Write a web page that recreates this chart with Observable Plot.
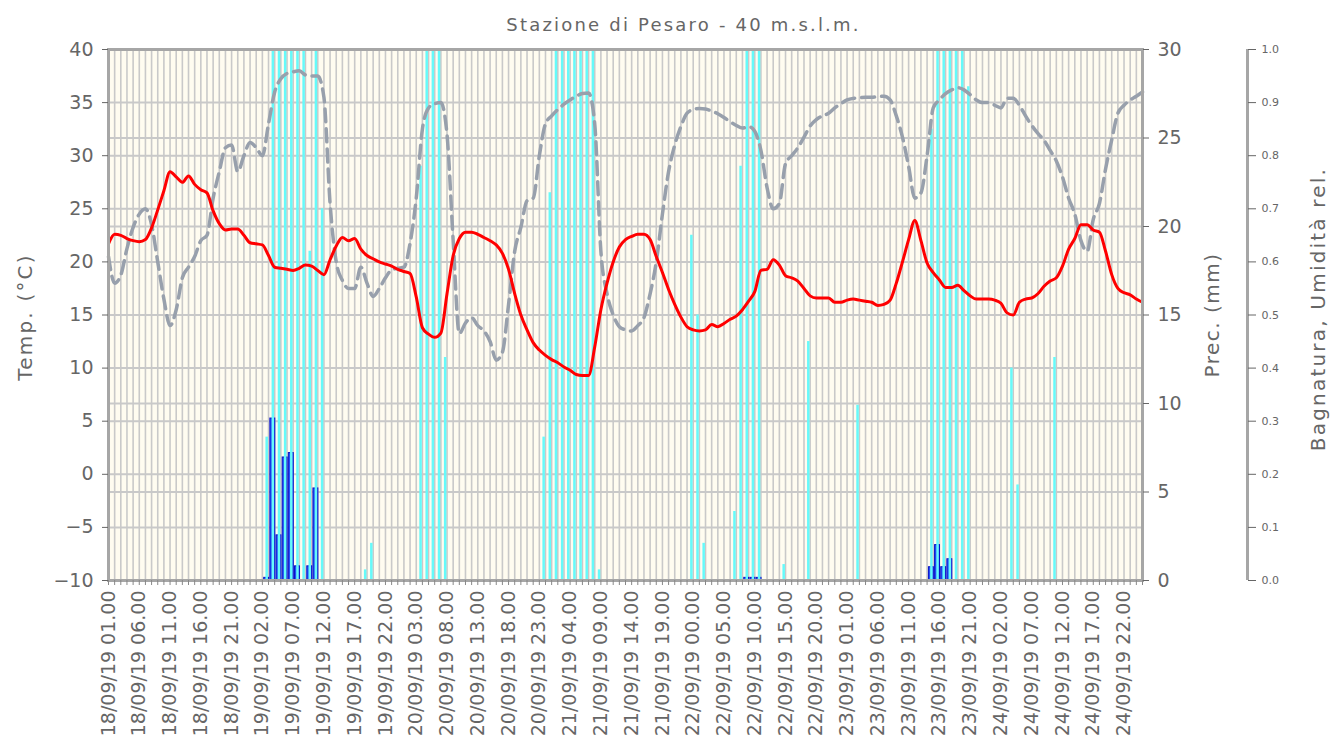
<!DOCTYPE html>
<html><head><meta charset="utf-8">
<script src="https://cdn.jsdelivr.net/npm/d3@7"></script>
<script src="https://cdn.jsdelivr.net/npm/@observablehq/plot@0.6"></script>
<style>body{margin:0;background:#fff;} svg{display:block}</style>
</head><body><div id="chart"></div>
<script>
const title = "Stazione di Pesaro - 40 m.s.l.m.";
const tempLabel = "Temp. (°C)";
const precLabel = "Prec. (mm)";
const humLabel = "Bagnatura, Umidità rel.";
const xLabels = ["18/09/19 01.00","18/09/19 06.00","18/09/19 11.00","18/09/19 16.00","18/09/19 21.00",
"19/09/19 02.00","19/09/19 07.00","19/09/19 12.00","19/09/19 17.00","19/09/19 22.00",
"20/09/19 03.00","20/09/19 08.00","20/09/19 13.00","20/09/19 18.00","20/09/19 23.00",
"21/09/19 04.00","21/09/19 09.00","21/09/19 14.00","21/09/19 19.00",
"22/09/19 00.00","22/09/19 05.00","22/09/19 10.00","22/09/19 15.00","22/09/19 20.00",
"23/09/19 01.00","23/09/19 06.00","23/09/19 11.00","23/09/19 16.00","23/09/19 21.00",
"24/09/19 02.00","24/09/19 07.00","24/09/19 12.00","24/09/19 17.00","24/09/19 22.00"];
// hourly temperature (°C), hour index 0 = 18/09/19 01.00
const temp = [21.7,22.6,22.5,22.2,22.0,21.9,22.1,23.2,24.9,26.7,
28.5,28.0,27.5,28.1,27.3,26.8,26.5,24.8,23.6,23.0,
23.1,23.1,22.5,21.8,21.7,21.6,20.6,19.5,19.4,19.3,
19.2,19.4,19.7,19.6,19.2,18.8,20.2,21.5,22.3,22.0,
22.2,21.2,20.6,20.3,20.0,19.8,19.6,19.3,19.1,18.9,
16.7,13.8,13.2,12.9,13.3,17.0,20.6,22.2,22.8,22.8,
22.6,22.3,22.0,21.6,20.8,19.3,17.0,15.0,13.6,12.4,
11.7,11.2,10.8,10.5,10.1,9.8,9.4,9.3,9.3,12.0,
15.5,18.0,20.0,21.4,22.1,22.4,22.6,22.6,22.1,20.5,
19.0,17.4,16.0,14.8,13.9,13.6,13.5,13.6,14.1,13.9,
14.2,14.6,14.9,15.5,16.3,17.2,19.2,19.3,20.2,19.7,
18.7,18.5,18.2,17.5,16.8,16.6,16.6,16.6,16.2,16.2,
16.4,16.5,16.4,16.3,16.2,15.9,16.0,16.4,18.0,20.0,
22.1,23.9,22.0,19.9,19.0,18.3,17.6,17.6,17.8,17.3,
16.8,16.5,16.5,16.5,16.4,16.1,15.2,15.0,16.2,16.5,
16.6,17.0,17.7,18.2,18.5,19.6,21.2,22.2,23.5,23.5,
23.0,22.8,21.0,18.8,17.5,17.1,16.9,16.5,16.2];
// hourly relative humidity (0-1)
const humidity = [0.61,0.56,0.575,0.625,0.665,0.69,0.70,0.67,0.60,0.53,
0.48,0.51,0.57,0.59,0.61,0.64,0.65,0.72,0.77,0.815,
0.82,0.77,0.80,0.825,0.815,0.80,0.86,0.92,0.945,0.955,
0.958,0.96,0.952,0.95,0.95,0.91,0.71,0.60,0.565,0.55,
0.55,0.59,0.56,0.535,0.55,0.57,0.585,0.588,0.59,0.635,
0.72,0.85,0.89,0.898,0.90,0.84,0.64,0.465,0.485,0.495,
0.48,0.47,0.45,0.415,0.43,0.52,0.62,0.665,0.715,0.72,
0.80,0.86,0.875,0.887,0.897,0.905,0.912,0.917,0.918,0.86,
0.62,0.54,0.50,0.478,0.472,0.47,0.48,0.495,0.54,0.60,
0.69,0.77,0.82,0.855,0.88,0.887,0.889,0.888,0.884,0.879,
0.872,0.864,0.857,0.852,0.855,0.846,0.81,0.74,0.70,0.71,
0.785,0.80,0.815,0.835,0.856,0.868,0.875,0.88,0.89,0.898,
0.905,0.908,0.909,0.91,0.91,0.911,0.912,0.905,0.875,0.835,
0.78,0.72,0.73,0.80,0.89,0.905,0.917,0.924,0.928,0.924,
0.915,0.905,0.90,0.90,0.895,0.89,0.908,0.908,0.895,0.875,
0.857,0.842,0.829,0.81,0.79,0.76,0.72,0.69,0.64,0.62,
0.68,0.71,0.775,0.83,0.88,0.895,0.905,0.912,0.92];
// leaf wetness (0-1) at hour index
const wetHour = [25,26,27,28,29,30,31,32,33,34,41,42,50,51,52,53,54,70,71,72,73,74,75,76,77,78,79,94,95,96,101,102,103,104,105,109,113,121,133,134,135,136,137,138,139,146,147,153];
const wetValue = [0.27,1,1,1,1,1,1,0.62,1,0.70,0.02,0.07,0.78,1,1,1,0.42,0.27,0.73,1,1,1,1,1,1,1,0.02,0.65,0.5,0.07,0.13,0.78,1,1,1,0.03,0.45,0.33,0.85,1,1,1,1,1,0.93,0.40,0.18,0.42];
// precipitation (mm) at hour index
const precHour = [25,26,27,28,29,30,32,33,103,104,105,133,134,135,136];
const precValue = [0.15,9.15,2.55,6.95,7.2,0.8,0.8,5.2,0.15,0.15,0.15,0.75,2.0,0.75,1.2];

const tempTicks = [-10,-5,0,5,10,15,20,25,30,35,40];
const precTicks = [0,5,10,15,20,25,30];
const humTicks = [0,0.1,0.2,0.3,0.4,0.5,0.6,0.7,0.8,0.9,1.0];

const yMin = -10, yMax = 40, nHours = 168;
const precToY = p => yMin + p * (yMax - yMin) / 30;
const humToY = h => yMin + h * (yMax - yMin);

const tempData = temp.map((v, i) => ({i, v}));
const humData = humidity.map((v, i) => ({i, y: humToY(v)}));
const wetData = wetHour.map((h, k) => ({i: h, y: humToY(wetValue[k])}));
const precData = precHour.map((h, k) => ({i: h, y: precToY(precValue[k])}));

const grey = "#666";
const gridColor = "#c9c9c9";
const chart = Plot.plot({
  width: 1331, height: 749,
  marginLeft: 108, marginRight: 189, marginTop: 49, marginBottom: 169,
  style: {fontFamily: "DejaVu Sans", background: "#fff", color: grey, overflow: "visible"},
  x: {type: "linear", domain: [0, nHours]},
  y: {domain: [yMin, yMax]},
  marks: [
    Plot.frame({fill: "#fffcf0", stroke: null}),
    Plot.ruleX(d3.range(0, nHours + 1), {stroke: gridColor, strokeWidth: 1.6}),
    Plot.ruleY(tempTicks.concat(precTicks.map(precToY)), {stroke: gridColor, strokeWidth: 2}),
    Plot.rectY(precData, {x1: d => d.i + 0.3, x2: d => d.i + 1.1, y1: yMin, y2: "y", fill: "#2150f5", stroke: "#0a10c8", strokeWidth: 1}),
    Plot.ruleX(wetData, {x: d => d.i + 0.7, y1: yMin, y2: "y", stroke: "#66fafa", strokeWidth: 2.5}),
    Plot.line(humData, {x: "i", y: "y", stroke: "#98a0ac", strokeWidth: 3.5, strokeDasharray: "13,7", curve: "monotone-x"}),
    Plot.line(tempData, {x: "i", y: "v", stroke: "#ff0000", strokeWidth: 3, curve: "monotone-x"}),
    Plot.frame({stroke: "#a6a6a6", strokeWidth: 3}),
    Plot.axisY(tempTicks, {anchor: "left", tickSize: 6, tickPadding: 9, fontSize: 19, color: grey, label: null}),
    Plot.axisY(precTicks.map(precToY), {anchor: "right", tickSize: 6, tickPadding: 9, fontSize: 19, color: grey, label: null,
      tickFormat: v => String(Math.round((v - yMin) * 30 / (yMax - yMin)))}),
    Plot.ruleX([nHours], {dx: 105, y1: yMin, y2: yMax, stroke: "#a6a6a6", strokeWidth: 3}),
    Plot.axisY(humTicks.map(humToY), {anchor: "right", dx: 105, tickSize: 8, tickPadding: 6, fontSize: 11, color: grey, label: null,
      tickFormat: v => ((v - yMin) / (yMax - yMin)).toFixed(1)}),
    Plot.axisX(d3.range(0, nHours + 1), {anchor: "bottom", tickSize: 5, tickFormat: () => "", color: "#888", label: null}),
    Plot.axisX(d3.range(0, 166, 5), {anchor: "bottom", tickSize: 0, tickPadding: 10, tickRotate: -90, fontSize: 19, color: grey, label: null,
      tickFormat: d => xLabels[d / 5]}),
    Plot.text([title], {frameAnchor: "top", textAnchor: "middle", lineAnchor: "middle", dx: 58, dy: -24, fontSize: 18, fill: grey}),
    Plot.text([tempLabel], {frameAnchor: "left", textAnchor: "middle", lineAnchor: "middle", dx: -83, dy: 2, rotate: -90, fontSize: 20, fill: grey}),
    Plot.text([precLabel], {frameAnchor: "right", textAnchor: "middle", lineAnchor: "middle", dx: 70, rotate: -90, fontSize: 20, fill: grey}),
    Plot.text([humLabel], {frameAnchor: "right", textAnchor: "middle", lineAnchor: "middle", dx: 176, dy: -6, rotate: -90, fontSize: 20, fill: grey})
  ]
});
d3.select(chart).selectAll("text").each(function() {
  const t = this.textContent;
  if (t === title || t === tempLabel || t === humLabel) this.setAttribute("letter-spacing", "2.2px");
  else if (t === precLabel) this.setAttribute("letter-spacing", "1.5px");
});
document.getElementById("chart").appendChild(chart);
</script>
</body></html>
